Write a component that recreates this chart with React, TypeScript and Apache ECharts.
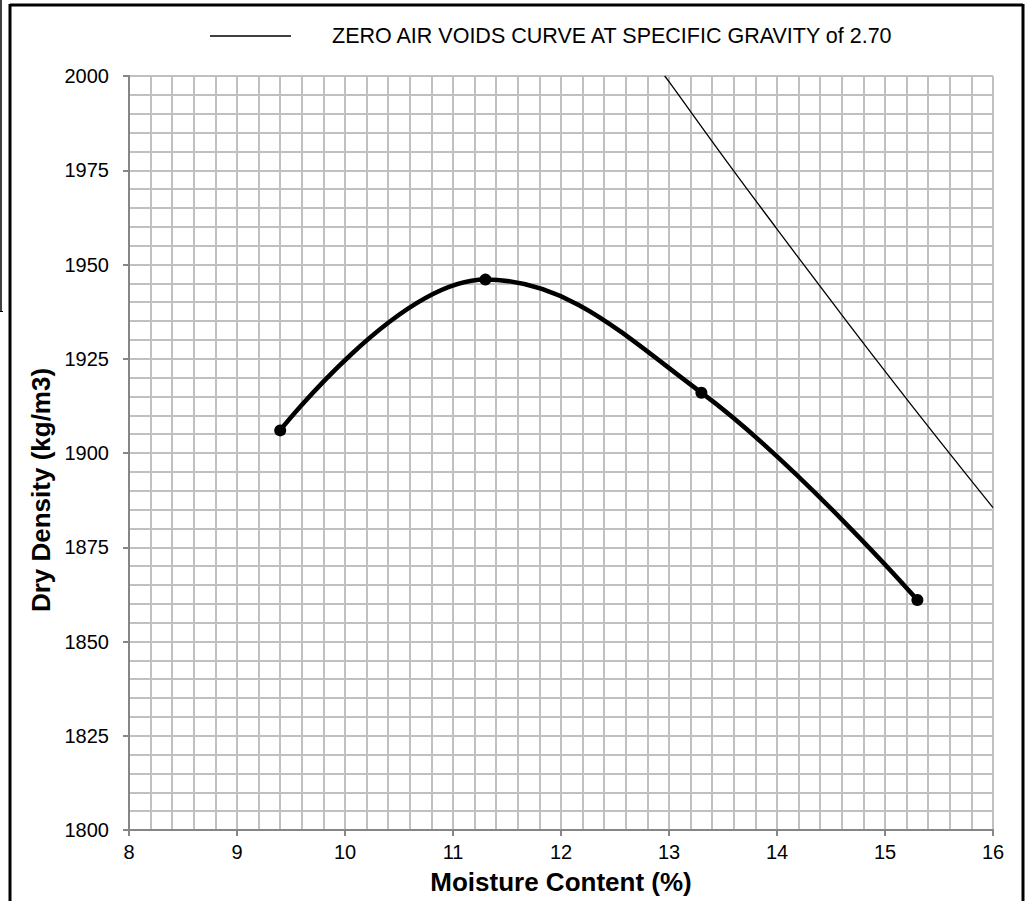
import React, { useEffect, useRef } from "react";
import * as echarts from "echarts";

const moisture = [9.4, 11.3, 13.3, 15.3];
const density = [1906, 1946, 1916, 1861];

const zavMoisture = [12.96, 13.0, 13.5, 14.0, 14.5, 15.0, 15.5, 16.0];
const zavDensity = [2000, 1998.5, 1978.7, 1959.4, 1940.4, 1921.7, 1903.4, 1885.5];

const legendLabel = "ZERO AIR VOIDS CURVE AT SPECIFIC GRAVITY of 2.70";
const xName = "Moisture Content (%)";
const yName = "Dry Density (kg/m3)";

const FONT = "'Liberation Sans', Arial, sans-serif";

export default function App() {
  const ref = useRef<HTMLDivElement>(null);
  useEffect(() => {
    if (!ref.current) return;
    const chart = echarts.init(ref.current, undefined, { renderer: "svg" });
    const gridColor = "#c0c0c0";
    const axisColor = "#868686";
    chart.setOption({
      animation: false,
      backgroundColor: "#ffffff",
      textStyle: { fontFamily: FONT },
      grid: { left: 129, right: 34, top: 76, bottom: 71, containLabel: false },
      xAxis: {
        type: "value",
        min: 8,
        max: 16,
        interval: 1,
        name: xName,
        nameLocation: "middle",
        nameGap: 39,
        nameTextStyle: { fontFamily: FONT, fontSize: 26, fontWeight: "bold", color: "#000" },
        axisLine: { show: true, lineStyle: { color: axisColor, width: 2 } },
        axisTick: { show: true, length: 6, lineStyle: { color: axisColor, width: 2 } },
        axisLabel: { fontFamily: FONT, fontSize: 20, color: "#000", margin: 12, formatter: (v: number) => String(v) },
        splitLine: { show: true, lineStyle: { color: gridColor, width: 2 } },
        minorTick: { show: false, splitNumber: 5 },
        minorSplitLine: { show: true, lineStyle: { color: gridColor, width: 2 } },
      },
      yAxis: {
        type: "value",
        min: 1800,
        max: 2000,
        interval: 25,
        axisLine: { show: true, lineStyle: { color: axisColor, width: 2 } },
        axisTick: { show: true, length: 6, lineStyle: { color: axisColor, width: 2 } },
        axisLabel: { fontFamily: FONT, fontSize: 20, color: "#000", margin: 20, formatter: (v: number) => String(v) },
        splitLine: { show: true, lineStyle: { color: gridColor, width: 2 } },
        minorTick: { show: false, splitNumber: 5 },
        minorSplitLine: { show: true, lineStyle: { color: gridColor, width: 2 } },
      },
      series: [
        {
          type: "line",
          name: legendLabel,
          data: zavMoisture.map((m, i) => [m, zavDensity[i]]),
          showSymbol: false,
          symbol: "none",
          smooth: true,
          lineStyle: { color: "#000", width: 1.3 },
          z: 3,
        },
        {
          type: "line",
          name: "Dry Density",
          data: moisture.map((m, i) => [m, density[i]]),
          smooth: 0.4,
          symbol: "circle",
          symbolSize: 12,
          itemStyle: { color: "#000" },
          lineStyle: { color: "#000", width: 4.5 },
          z: 4,
        },
      ],
      graphic: [
        { type: "line", shape: { x1: 10, y1: 5, x2: 1023, y2: 5 }, style: { stroke: "#000", lineWidth: 3 } },
        { type: "line", shape: { x1: 10, y1: 4, x2: 10, y2: 901 }, style: { stroke: "#000", lineWidth: 3 } },
        { type: "line", shape: { x1: 1023, y1: 4, x2: 1023, y2: 901 }, style: { stroke: "#000", lineWidth: 3 } },
        { type: "line", shape: { x1: 1, y1: 0, x2: 1, y2: 312 }, style: { stroke: "#000", lineWidth: 1.5 } },
        { type: "line", shape: { x1: 0, y1: 311.5, x2: 3, y2: 311.5 }, style: { stroke: "#000", lineWidth: 1 } },
        { type: "line", shape: { x1: 210, y1: 36, x2: 291, y2: 36 }, style: { stroke: "#000", lineWidth: 1.3 } },
        {
          type: "text",
          x: 332,
          y: 36,
          style: { text: legendLabel, fontFamily: FONT, fontSize: 21.5, fill: "#000", textVerticalAlign: "middle", textAlign: "left" },
        },
        {
          type: "text",
          x: 41,
          y: 490,
          rotation: Math.PI / 2,
          style: { text: yName, fontFamily: FONT, fontSize: 26, fontWeight: "bold", fill: "#000", textVerticalAlign: "middle", textAlign: "center" },
        },
      ],
    });
    return () => chart.dispose();
  }, []);
  return <div ref={ref} style={{ position: "fixed", left: 0, top: 0, width: 1027, height: 901 }} />;
}
